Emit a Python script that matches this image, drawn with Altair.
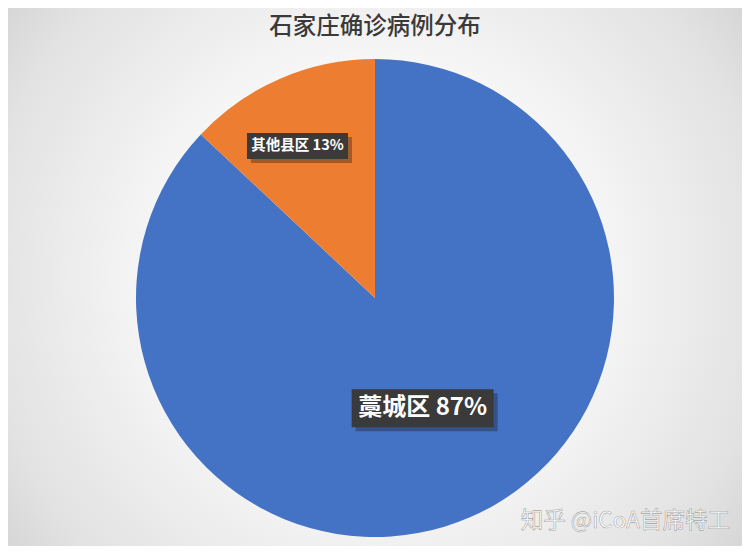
import altair as alt
import pandas as pd

# ---- data ----
categories = ["藁城区", "其他县区"]
shares = [87, 13]
orders = [0, 1]
title_text = "石家庄确诊病例分布"
watermark_text = "知乎 @iCoA首席特工"

df = pd.DataFrame({"cat": categories, "share": shares, "order": orders})
df["label"] = [f"{c} {s}%" for c, s in zip(categories, shares)]

# ---- layout constants ----
W, H = 734, 538
CX, CY, R = 367, 290, 239
FONT = "Noto Sans CJK SC"

bg_gradient = {
    "gradient": "radial",
    "x1": 0.5, "y1": 0.5, "r1": 0,
    "x2": 0.5, "y2": 0.5, "r2": 0.72,
    "stops": [
        {"offset": 0, "color": "#ffffff"},
        {"offset": 0.4, "color": "#f7f7f7"},
        {"offset": 0.75, "color": "#e2e2e2"},
        {"offset": 1, "color": "#c8c8c8"},
    ],
}

base = alt.Chart(df)

tdf = pd.DataFrame({"t": [title_text]})

background = alt.Chart(tdf).mark_rect(color=bg_gradient).encode(
    x=alt.value(0), x2=alt.value(W), y=alt.value(0), y2=alt.value(H))

pie = base.mark_arc(radius=R, strokeWidth=0).encode(
    theta=alt.Theta("share:Q", stack=True),
    color=alt.Color("cat:N", scale=alt.Scale(domain=categories, range=["#4472C4", "#ED7D31"]), legend=None),
    order=alt.Order("order:Q", sort="ascending"),
    x=alt.value(CX),
    y=alt.value(CY),
)


def label_layers(cat, r, w, h, fs, dx=0, dy=0):
    b = (
        base.transform_window(cum="sum(share)", sort=[{"field": "order"}], frame=[None, 0])
        .transform_joinaggregate(total="sum(share)")
        .transform_calculate(mid="(datum.cum - datum.share / 2) / datum.total * 2 * PI")
        .transform_filter(alt.datum.cat == cat)
        .transform_calculate(
            cx=f"{CX} + {r} * sin(datum.mid) + {dx}",
            cy=f"{CY} - {r} * cos(datum.mid) + {dy}",
        )
        .transform_calculate(
            bx1=f"datum.cx - {w / 2}", bx2=f"datum.cx + {w / 2}",
            by1=f"datum.cy - {h / 2}", by2=f"datum.cy + {h / 2}",
            sx1=f"datum.cx - {w / 2} + 4", sx2=f"datum.cx + {w / 2} + 4",
            sy1=f"datum.cy - {h / 2} + 4", sy2=f"datum.cy + {h / 2} + 4",
        )
    )
    shadow = b.mark_rect(color="#1a1a1a", opacity=0.35).encode(
        x=alt.X("sx1:Q", scale=None), x2="sx2:Q",
        y=alt.Y("sy1:Q", scale=None), y2="sy2:Q",
    )
    box = b.mark_rect(color="#3a3a3a").encode(
        x=alt.X("bx1:Q", scale=None), x2="bx2:Q",
        y=alt.Y("by1:Q", scale=None), y2="by2:Q",
    )
    txt = b.mark_text(font=FONT, fontSize=fs, fontWeight="bold", color="#ffffff",
                      align="center", baseline="middle").encode(
        x=alt.X("cx:Q", scale=None), y=alt.Y("cy:Q", scale=None), text="label:N",
    )
    return [shadow, box, txt]


big = label_layers("藁城区", 120, 142, 38, 24)
small = label_layers("其他县区", 170, 101, 26, 14.5, dx=-10, dy=4)

title = alt.Chart(tdf).mark_text(font=FONT, fontSize=23.5, color="#3a3a3a", fontWeight=500,
                                 align="center", baseline="middle").encode(
    x=alt.value(W / 2), y=alt.value(19), text="t:N")

wdf = pd.DataFrame({"t": [watermark_text]})
wm = alt.Chart(wdf).mark_text(font=FONT, fontSize=22.5, color="#ffffff",
                              stroke="#8f8f8f", strokeWidth=0.6, strokeOpacity=0.8,
                              align="right", baseline="middle").encode(
    x=alt.value(722), y=alt.value(513), text="t:N")

chart = alt.layer(background, pie, *big, *small, title, wm).properties(
    width=W, height=H,
    autosize=alt.AutoSizeParams(type="none"),
    padding=0,
).configure_view(strokeWidth=0)

chart.save("out.html", embed_options={"renderer": "svg", "actions": False})
